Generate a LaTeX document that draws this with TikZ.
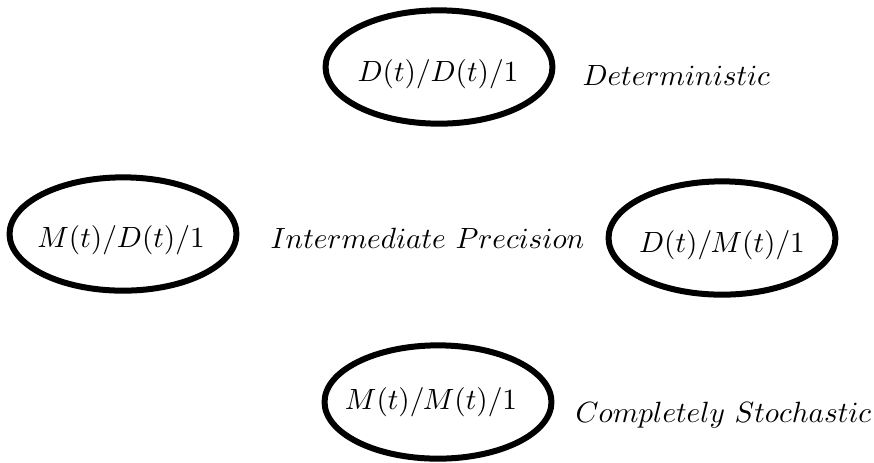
\documentclass[tikz,border=0pt]{standalone}
\usetikzlibrary{shapes.geometric}
\begin{document}
\begin{tikzpicture}[x=0.3415pt,y=-0.3415pt,
  queue/.style={draw, ellipse, line width=2.05pt, inner sep=0pt, minimum width=77.5pt, minimum height=38.7pt},
  qtext/.style={anchor=base, inner sep=0pt},
  qlabel/.style={anchor=base west, inner sep=0pt}]
\useasboundingbox (0,0) rectangle (874,462);
\node[queue] (dd) at (439,67) {};
\node[queue] (md) at (123,234) {};
\node[queue] (dm) at (722,238) {};
\node[queue] (mm) at (438,402) {};
\node[qtext] (ddt) at (438,81) {$D(t)/D(t)/1$};
\node[qtext] (mdt) at (121,247) {$M(t)/D(t)/1$};
\node[qtext] (dmt) at (722,252) {$D(t)/M(t)/1$};
\node[qtext] (mmt) at (431,409) {$M(t)/M(t)/1$};
\node[qlabel] (det) at (582,85) {$Deterministic$};
\node[qlabel] (inter) at (270,248) {$Intermediate\ Precision$};
\node[qlabel] (stoch) at (575,422) {$Completely\ Stochastic$};
\end{tikzpicture}
\end{document}
